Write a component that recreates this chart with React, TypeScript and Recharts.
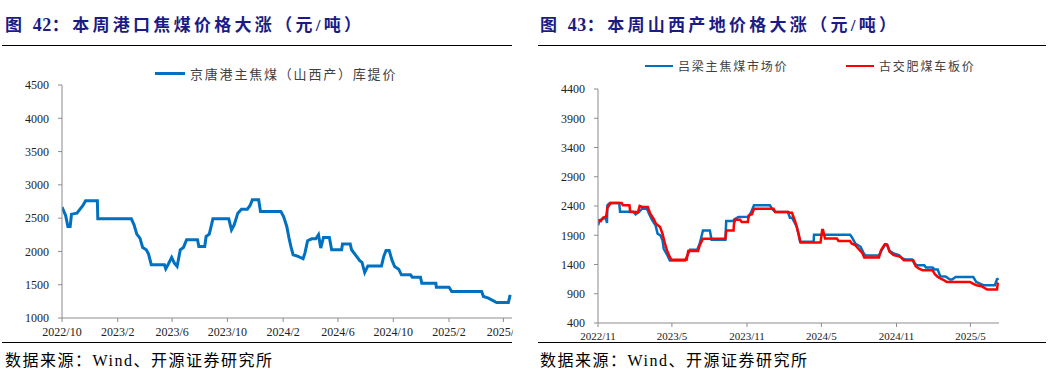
import { LineChart, Line, XAxis, YAxis } from "recharts";

// 图42：京唐港主焦煤（山西产）库提价
const jtDates = [
  "2022-10-01", "2022-10-09", "2022-10-14", "2022-10-19", "2022-10-22", "2022-11-03",
  "2022-11-17", "2022-11-22", "2022-12-18", "2022-12-19", "2023-03-03", "2023-03-09",
  "2023-03-15", "2023-03-22", "2023-03-28", "2023-04-05", "2023-04-10", "2023-04-16",
  "2023-05-15", "2023-05-18", "2023-05-24", "2023-05-31", "2023-06-06", "2023-06-12",
  "2023-06-19", "2023-06-26", "2023-07-03", "2023-07-27", "2023-07-30", "2023-08-12",
  "2023-08-15", "2023-08-22", "2023-08-30", "2023-10-04", "2023-10-10", "2023-10-16",
  "2023-10-24", "2023-11-01", "2023-11-14", "2023-11-20", "2023-11-25", "2023-12-09",
  "2023-12-13", "2024-01-27", "2024-02-02", "2024-02-09", "2024-02-14", "2024-02-18",
  "2024-02-23", "2024-03-05", "2024-03-16", "2024-03-20", "2024-03-26", "2024-04-04",
  "2024-04-13", "2024-04-19", "2024-04-24", "2024-04-30", "2024-05-13", "2024-05-18",
  "2024-06-09", "2024-06-11", "2024-06-28", "2024-07-01", "2024-07-12", "2024-07-19",
  "2024-07-24", "2024-07-30", "2024-08-06", "2024-09-05", "2024-09-10", "2024-09-15",
  "2024-09-22", "2024-09-28", "2024-10-04", "2024-10-13", "2024-10-19", "2024-11-08",
  "2024-11-12", "2024-11-30", "2024-12-03", "2025-01-03", "2025-01-04", "2025-02-01",
  "2025-02-07", "2025-04-14", "2025-04-18", "2025-04-29", "2025-05-06", "2025-05-17",
  "2025-06-12", "2025-06-16",
];
const jtPrices = [
  2665, 2540, 2375, 2375, 2560, 2575,
  2700, 2760, 2760, 2490, 2490, 2400,
  2260, 2200, 2060, 2025, 1960, 1800,
  1800, 1740, 1815, 1910, 1825, 1775,
  2025, 2060, 2175, 2175, 2075, 2075,
  2225, 2260, 2490, 2490, 2325, 2400,
  2575, 2635, 2635, 2690, 2775, 2775,
  2600, 2600, 2525, 2375, 2200, 2075,
  1950, 1925, 1890, 1975, 2160, 2190,
  2190, 2250, 2050, 2210, 2210, 2025,
  2025, 2110, 2110, 2025, 1925, 1860,
  1835, 1683, 1783, 1783, 1925, 2014,
  2014, 1873, 1773, 1733, 1648, 1648,
  1613, 1613, 1523, 1523, 1463, 1463,
  1398, 1398, 1323, 1298, 1273, 1233,
  1233, 1348,
];
const jtTickDates = [
  "2022-10-01", "2023-02-01", "2023-06-01", "2023-10-01", "2024-02-01",
  "2024-06-01", "2024-10-01", "2025-02-01", "2025-06-01",
];
const jtTickLabels = [
  "2022/10", "2023/2", "2023/6", "2023/10", "2024/2", "2024/6", "2024/10", "2025/2", "2025/6",
];
const jtYTicks = [1000, 1500, 2000, 2500, 3000, 3500, 4000, 4500];

// 图43：吕梁主焦煤市场价
const llDates = [
  "2022-11-01", "2022-11-05", "2022-11-13", "2022-11-20", "2022-11-23", "2022-11-24",
  "2022-11-30", "2022-12-23", "2022-12-25", "2023-01-27", "2023-02-01", "2023-02-09",
  "2023-02-17", "2023-03-01", "2023-03-06", "2023-03-14", "2023-03-22", "2023-03-27",
  "2023-04-03", "2023-04-08", "2023-04-11", "2023-04-18", "2023-04-26", "2023-06-02",
  "2023-06-08", "2023-06-14", "2023-07-02", "2023-07-08", "2023-07-16", "2023-08-02",
  "2023-08-06", "2023-09-09", "2023-09-11", "2023-09-29", "2023-09-30", "2023-10-11",
  "2023-11-05", "2023-11-11", "2023-11-18", "2023-12-27", "2024-01-01", "2024-01-09",
  "2024-02-09", "2024-02-14", "2024-02-19", "2024-03-02", "2024-03-10", "2024-04-12",
  "2024-04-13", "2024-07-10", "2024-07-14", "2024-07-23", "2024-08-05", "2024-08-13",
  "2024-08-17", "2024-09-19", "2024-09-27", "2024-10-05", "2024-10-09", "2024-10-15",
  "2024-10-25", "2024-11-07", "2024-11-15", "2024-11-23", "2024-12-09", "2024-12-15",
  "2024-12-21", "2025-01-08", "2025-01-12", "2025-01-28", "2025-02-03", "2025-02-10",
  "2025-02-16", "2025-03-01", "2025-03-12", "2025-03-17", "2025-03-26", "2025-05-08",
  "2025-05-15", "2025-05-24", "2025-06-02", "2025-06-30", "2025-07-05", "2025-07-09",
];
const llPrices = [
  2069, 2155, 2183, 2200, 2110, 2411,
  2450, 2450, 2300, 2300, 2257, 2297,
  2354, 2354, 2269, 2155, 2069, 1926,
  1897, 1812, 1669, 1583, 1469, 1469,
  1554, 1652, 1652, 1755, 1983, 1983,
  1823, 1823, 2143, 2143, 2166, 2212,
  2215, 2297, 2411, 2411, 2354, 2297,
  2297, 2200, 2200, 2045, 1788, 1788,
  1910, 1910, 1874, 1760, 1703, 1588,
  1555, 1555, 1657, 1748, 1740, 1634,
  1588, 1560, 1503, 1486, 1486, 1417,
  1388, 1388, 1348, 1348, 1314, 1314,
  1200, 1195, 1143, 1143, 1188, 1188,
  1103, 1074, 1046, 1046, 1148, 1160,
];

// 图43：古交肥煤车板价
const gjDates = [
  "2022-11-01", "2022-11-08", "2022-11-13", "2022-11-21", "2022-11-24", "2022-12-02",
  "2022-12-29", "2023-01-01", "2023-01-17", "2023-01-19", "2023-02-07", "2023-02-11",
  "2023-02-17", "2023-03-03", "2023-03-09", "2023-03-17", "2023-03-23", "2023-04-02",
  "2023-04-08", "2023-04-14", "2023-04-19", "2023-04-26", "2023-04-30", "2023-06-06",
  "2023-06-10", "2023-07-04", "2023-07-08", "2023-07-16", "2023-09-09", "2023-09-11",
  "2023-09-29", "2023-09-30", "2023-10-03", "2023-10-15", "2023-10-19", "2023-11-03",
  "2023-11-05", "2023-11-13", "2023-11-18", "2024-01-05", "2024-01-09", "2024-02-09",
  "2024-02-15", "2024-02-19", "2024-02-27", "2024-03-06", "2024-03-11", "2024-04-29",
  "2024-05-03", "2024-05-05", "2024-05-10", "2024-06-08", "2024-06-12", "2024-07-10",
  "2024-07-14", "2024-07-23", "2024-07-30", "2024-08-09", "2024-08-14", "2024-09-19",
  "2024-09-24", "2024-10-03", "2024-10-09", "2024-10-15", "2024-10-25", "2024-11-11",
  "2024-11-19", "2024-12-12", "2024-12-18", "2024-12-26", "2025-01-04", "2025-01-28",
  "2025-02-03", "2025-02-10", "2025-02-22", "2025-03-04", "2025-04-30", "2025-05-07",
  "2025-05-16", "2025-05-28", "2025-06-11", "2025-07-05", "2025-07-07", "2025-07-09",
];
const gjPrices = [
  2166, 2143, 2200, 2223, 2371, 2450,
  2450, 2411, 2411, 2297, 2297, 2400,
  2383, 2383, 2269, 2183, 2097, 2040,
  1926, 1755, 1641, 1526, 1481, 1481,
  1629, 1629, 1726, 1840, 1840, 1983,
  1983, 2097, 2166, 2166, 2126, 2126,
  2240, 2260, 2354, 2354, 2297, 2297,
  2285, 2285, 2131, 1931, 1777, 1777,
  1988, 1988, 1845, 1845, 1800, 1800,
  1760, 1731, 1674, 1600, 1520, 1520,
  1645, 1743, 1735, 1617, 1560, 1531,
  1474, 1474, 1371, 1331, 1303, 1303,
  1234, 1188, 1143, 1103, 1103, 1074,
  1046, 1028, 971, 971, 1074, 1086,
];
const shTickDates = ["2022-11-01", "2023-05-01", "2023-11-01", "2024-05-01", "2024-11-01", "2025-05-01"];
const shTickLabels = ["2022/11", "2023/5", "2023/11", "2024/5", "2024/11", "2025/5"];
const shYTicks = [400, 900, 1400, 1900, 2400, 2900, 3400, 3900, 4400];

const BLUE = "#0070C0";
const RED = "#FF0000";
const NAVY = "#1b1b86";
const AXIS = "#8c8c8c";
const SERIF = "'Liberation Serif', 'Noto Sans CJK SC', serif";
const CJK = "'Liberation Serif', 'Noto Sans CJK SC', sans-serif";

const toRows = (dates: string[], values: number[]) =>
  dates.map((d, i) => ({ t: Date.parse(d), v: values[i] }));

const jtData = toRows(jtDates, jtPrices);
const llData = toRows(llDates, llPrices);
const gjData = toRows(gjDates, gjPrices);

function labelFor(dates: string[], labels: string[]) {
  return (t: number) => {
    const i = dates.findIndex((d) => Date.parse(d) === t);
    return i >= 0 ? labels[i] : "";
  };
}

function Title({ x, num, text }: { x: number; num: string; text: string }) {
  return (
    <div
      style={{
        position: "absolute",
        left: x,
        top: 16,
        fontFamily: CJK,
        fontWeight: "bold",
        fontSize: 17,
        lineHeight: "19px",
        letterSpacing: 3.3,
        color: NAVY,
        whiteSpace: "nowrap",
      }}
    >
      图 <span style={{ letterSpacing: 0.5, fontSize: 18 }}>{num}</span>：{text}
    </div>
  );
}

function Rule({ x, y, w }: { x: number; y: number; w: number }) {
  return (
    <div
      style={{ position: "absolute", left: x, top: y, width: w, height: 0, borderTop: "1.5px solid #000" }}
    />
  );
}

function Source({ x }: { x: number }) {
  return (
    <div
      style={{
        position: "absolute",
        left: x,
        top: 352,
        fontFamily: CJK,
        fontSize: 16,
        lineHeight: "18px",
        letterSpacing: 1.5,
        color: "#000",
        whiteSpace: "nowrap",
      }}
    >
      数据来源：Wind、开源证券研究所
    </div>
  );
}

function LegendItem({
  x,
  y,
  color,
  lineW,
  thick,
  label,
  size,
  spacing,
}: {
  x: number;
  y: number;
  color: string;
  lineW: number;
  thick: number;
  label: string;
  size: number;
  spacing: number;
}) {
  return (
    <div style={{ position: "absolute", left: x, top: y - 10, height: 20, display: "flex", alignItems: "center" }}>
      <div style={{ width: lineW, height: thick, background: color, marginRight: 5 }} />
      <span
        style={{
          fontFamily: CJK,
          fontSize: size,
          letterSpacing: spacing,
          color: "#404040",
          whiteSpace: "nowrap",
        }}
      >
        {label}
      </span>
    </div>
  );
}

const tickStyle = { fontFamily: SERIF, fontSize: 12, fill: "#222" };

export default function App() {
  return (
    <div
      style={{
        position: "absolute",
        left: 0,
        top: 0,
        width: 1055,
        height: 389,
        background: "#fff",
        overflow: "hidden",
      }}
    >
      {/* 左图 */}
      <Title x={5} num="42" text="本周港口焦煤价格大涨（元/吨）" />
      <Rule x={2} y={45} w={510} />
      <LegendItem
        x={155}
        y={73}
        color={BLUE}
        lineW={30}
        thick={3}
        label="京唐港主焦煤（山西产）库提价"
        size={13}
        spacing={1.8}
      />
      <div style={{ position: "absolute", left: 0, top: 50 }}>
        <LineChart width={513} height={292} margin={{ top: 35, right: 1, bottom: 4, left: 2 }}>
          <XAxis
            dataKey="t"
            type="number"
            scale="time"
            domain={[Date.parse("2022-10-01"), Date.parse("2025-06-20")]}
            ticks={jtTickDates.map((d) => Date.parse(d))}
            tickFormatter={labelFor(jtTickDates, jtTickLabels)}
            interval={0}
            height={20}
            stroke={AXIS}
            tickSize={4}
            tickMargin={5}
            tick={tickStyle}
            allowDataOverflow
          />
          <YAxis
            type="number"
            domain={[1000, 4500]}
            ticks={jtYTicks}
            interval={0}
            width={60}
            stroke={AXIS}
            tickSize={4}
            tickMargin={9}
            tick={tickStyle}
          />
          <Line
            data={jtData}
            dataKey="v"
            type="linear"
            stroke={BLUE}
            strokeWidth={3}
            dot={false}
            isAnimationActive={false}
          />
        </LineChart>
      </div>
      <Rule x={2} y={342} w={510} />
      <Source x={5} />

      {/* 右图 */}
      <Title x={540} num="43" text="本周山西产地价格大涨（元/吨）" />
      <Rule x={538} y={45} w={508} />
      <LegendItem x={645} y={66} color={BLUE} lineW={28} thick={2.5} label="吕梁主焦煤市场价" size={12} spacing={1.8} />
      <LegendItem x={846} y={66} color={RED} lineW={28} thick={2.5} label="古交肥煤车板价" size={12} spacing={1.8} />
      <div style={{ position: "absolute", left: 538, top: 50 }}>
        <LineChart width={508} height={292} margin={{ top: 39, right: 47, bottom: 4, left: 2 }}>
          <XAxis
            dataKey="t"
            type="number"
            scale="time"
            domain={[Date.parse("2022-11-01"), Date.parse("2025-07-10")]}
            ticks={shTickDates.map((d) => Date.parse(d))}
            tickFormatter={labelFor(shTickDates, shTickLabels)}
            interval={0}
            height={15}
            stroke={AXIS}
            tickSize={4}
            tickMargin={5}
            tick={{ ...tickStyle, fontSize: 11 }}
            allowDataOverflow
          />
          <YAxis
            type="number"
            domain={[400, 4400]}
            ticks={shYTicks}
            interval={0}
            width={58}
            stroke={AXIS}
            tickSize={4}
            tickMargin={9}
            tick={tickStyle}
          />
          <Line
            data={llData}
            dataKey="v"
            type="linear"
            stroke={BLUE}
            strokeWidth={2.5}
            dot={false}
            isAnimationActive={false}
          />
          <Line
            data={gjData}
            dataKey="v"
            type="linear"
            stroke={RED}
            strokeWidth={2.5}
            dot={false}
            isAnimationActive={false}
          />
        </LineChart>
      </div>
      <Rule x={538} y={342} w={508} />
      <Source x={540} />
    </div>
  );
}
